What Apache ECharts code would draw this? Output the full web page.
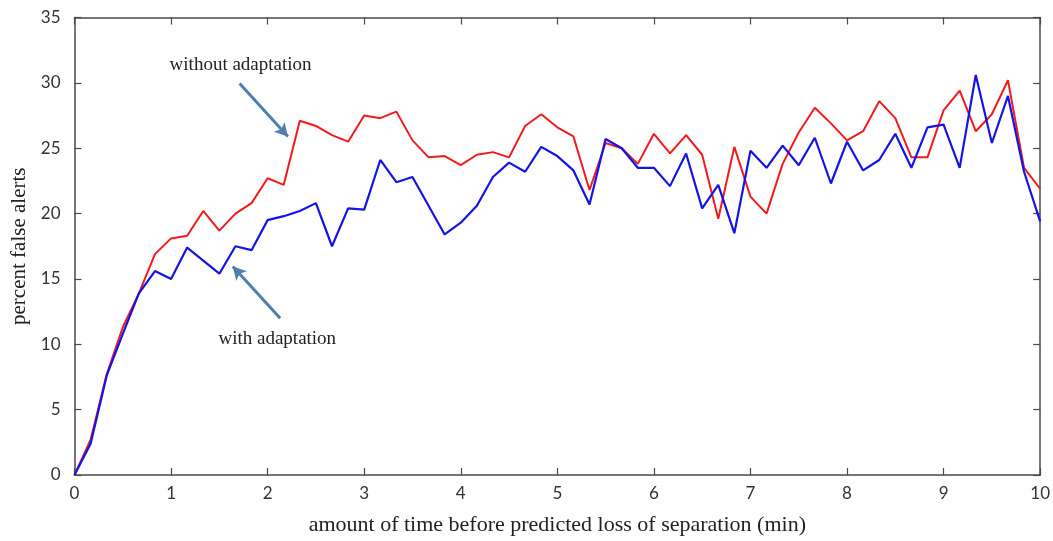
<!DOCTYPE html>
<html>
<head>
<meta charset="utf-8">
<script src="https://cdn.jsdelivr.net/npm/echarts@6/dist/echarts.min.js"></script>
<style>
  html, body { margin: 0; padding: 0; background: #fff; }
  #chart { width: 1053px; height: 541px; }
</style>
</head>
<body>
<div id="chart"></div>
<script>
// Samples are taken every 10 s (1/6 min) from 0 to 10 min.
const SAMPLE_STEP_MIN = 1 / 6;

// percent false alerts, without adaptation
const withoutAdaptation = [
  0, 2.7, 7.7, 11.3, 13.9, 16.9, 18.1, 18.3, 20.2, 18.7,
  20.0, 20.8, 22.7, 22.2, 27.1, 26.7, 26.0, 25.5, 27.5, 27.3,
  27.8, 25.6, 24.3, 24.4, 23.7, 24.5, 24.7, 24.3, 26.7, 27.6,
  26.6, 25.9, 21.8, 25.4, 25.0, 23.8, 26.1, 24.6, 26.0, 24.5,
  19.6, 25.1, 21.3, 20.0, 23.8, 26.2, 28.1, 26.9, 25.6, 26.3,
  28.6, 27.3, 24.3, 24.3, 27.9, 29.4, 26.3, 27.6, 30.2, 23.5,
  21.9
];

// percent false alerts, with adaptation
const withAdaptation = [
  0, 2.4, 7.6, 10.8, 13.9, 15.6, 15.0, 17.4, 16.4, 15.4,
  17.5, 17.2, 19.5, 19.8, 20.2, 20.8, 17.5, 20.4, 20.3, 24.1,
  22.4, 22.8, 20.6, 18.4, 19.3, 20.6, 22.8, 23.9, 23.2, 25.1,
  24.4, 23.3, 20.7, 25.7, 25.0, 23.5, 23.5, 22.1, 24.6, 20.4,
  22.2, 18.5, 24.8, 23.5, 25.2, 23.7, 25.8, 22.3, 25.5, 23.3,
  24.1, 26.1, 23.5, 26.6, 26.8, 23.5, 30.6, 25.4, 29.0, 23.2,
  19.4
];

const xTicks = [0, 1, 2, 3, 4, 5, 6, 7, 8, 9, 10];
const yTicks = [0, 5, 10, 15, 20, 25, 30, 35];

// Callouts: text anchor, arrow tail and arrow head, in data units
const noteWithout = { text: 'without adaptation', at: [1.72, 31.4], tail: [1.71, 29.95], head: [2.21, 25.9] };
const noteWith = { text: 'with adaptation', at: [2.1, 10.4], tail: [2.13, 12.0], head: [1.64, 15.95] };

const toPairs = vals => vals.map((v, i) => [i * SAMPLE_STEP_MIN, v]);

const axisColor = '#4a4a4a';
const tickFont = { fontFamily: 'Lato, "Open Sans", sans-serif', fontSize: 17, color: '#333' };
const serif = '"Liberation Serif", "DejaVu Serif", serif';
const arrowColor = '#4f7fae';

const chart = echarts.init(document.getElementById('chart'), null, { renderer: 'canvas' });

function calloutMarks(note) {
  return {
    markLine: {
      silent: true,
      animation: false,
      symbol: ['none', 'arrow'],
      symbolSize: [11, 13],
      lineStyle: { color: arrowColor, width: 3, type: 'solid' },
      label: { show: false },
      data: [[{ coord: note.tail }, { coord: note.head }]]
    },
    markPoint: {
      silent: true,
      animation: false,
      symbol: 'rect',
      symbolSize: 1,
      itemStyle: { color: 'rgba(0,0,0,0)' },
      label: {
        show: true,
        position: 'inside',
        formatter: note.text,
        fontFamily: serif,
        fontSize: 19,
        color: '#222'
      },
      data: [{ coord: note.at }]
    }
  };
}

const frameLine = { show: true, onZero: false, lineStyle: { color: axisColor, width: 1.5 } };
const frameTick = { show: true, inside: true, length: 7, lineStyle: { color: axisColor, width: 1.2 } };

chart.setOption({
  animation: false,
  backgroundColor: '#fff',
  grid: { left: 74.5, right: 10.5, top: 17.5, bottom: 65, containLabel: false },
  xAxis: [
    {
      type: 'value', min: 0, max: 10, interval: 1, position: 'bottom',
      name: 'amount of time before predicted loss of separation (min)',
      nameLocation: 'middle', nameGap: 39,
      nameTextStyle: { fontFamily: serif, fontSize: 22, color: '#222' },
      axisLine: frameLine,
      axisTick: frameTick,
      axisLabel: Object.assign({ margin: 10, formatter: v => xTicks.includes(v) ? String(v) : '' }, tickFont),
      splitLine: { show: false }
    },
    {
      type: 'value', min: 0, max: 10, interval: 1, position: 'top',
      axisLine: frameLine,
      axisTick: frameTick,
      axisLabel: { show: false },
      splitLine: { show: false }
    }
  ],
  yAxis: [
    {
      type: 'value', min: 0, max: 35, interval: 5, position: 'left',
      name: 'percent false alerts',
      nameLocation: 'middle', nameGap: 40,
      nameTextStyle: { fontFamily: serif, fontSize: 21, color: '#222' },
      axisLine: frameLine,
      axisTick: frameTick,
      axisLabel: Object.assign({ margin: 14, formatter: v => yTicks.includes(v) ? String(v) : '' }, tickFont),
      splitLine: { show: false }
    },
    {
      type: 'value', min: 0, max: 35, interval: 5, position: 'right',
      axisLine: frameLine,
      axisTick: frameTick,
      axisLabel: { show: false },
      splitLine: { show: false }
    }
  ],
  series: [
    Object.assign({
      name: 'with adaptation',
      type: 'line',
      data: toPairs(withAdaptation),
      showSymbol: false,
      lineStyle: { color: '#1414e6', width: 2.2 },
      itemStyle: { color: '#1414e6' },
      z: 3
    }, calloutMarks(noteWith)),
    Object.assign({
      name: 'without adaptation',
      type: 'line',
      data: toPairs(withoutAdaptation),
      showSymbol: false,
      lineStyle: { color: '#f21a1a', width: 2 },
      itemStyle: { color: '#f21a1a' },
      z: 2
    }, calloutMarks(noteWithout))
  ]
});
</script>
</body>
</html>
